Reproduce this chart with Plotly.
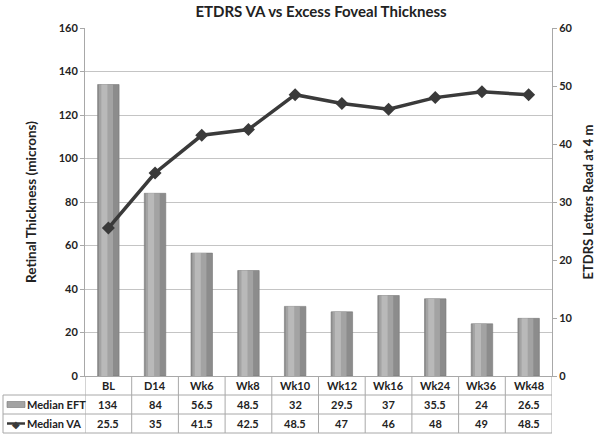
import plotly.graph_objects as go

categories = ["BL", "D14", "Wk6", "Wk8", "Wk10", "Wk12", "Wk16", "Wk24", "Wk36", "Wk48"]
median_eft = [134, 84, 56.5, 48.5, 32, 29.5, 37, 35.5, 24, 26.5]
median_va = [25.5, 35, 41.5, 42.5, 48.5, 47, 46, 48, 49, 48.5]

W, H = 600, 437
L, R, T, B = 85, 48, 28, 61
plot_w = W - L - R
plot_h = H - T - B
row_h = 19 / plot_h
left_px = 3
left_paper = (left_px - L) / plot_w

font = dict(family="Lato, Open Sans, sans-serif", size=11, color="#222222", weight="bold")
grid_c = "#c4c4c4"
table_c = "#a8a8a8"

fig = go.Figure()

# bars, layered to fake the cylinder shading
for width, offset, color, main in [
    (0.46, -0.23, "#8c8c8c", True),
    (0.30, -0.20, "#a3a3a3", False),
    (0.13, -0.15, "#b9b9b9", False),
]:
    fig.add_trace(
        go.Bar(
            x=list(range(len(categories))),
            y=median_eft,
            width=width,
            offset=offset,
            marker={"color": color, "line": {"color": "#777777" if main else color, "width": 0.6 if main else 0}},
            name="Median EFT",
            showlegend=False,
            hoverinfo="y" if main else "skip",
            yaxis="y",
        )
    )

fig.add_trace(
    go.Scatter(
        x=list(range(len(categories))),
        y=median_va,
        mode="lines+markers",
        line={"color": "#3a3a3a", "width": 3.5},
        marker={"symbol": "diamond", "size": 10, "color": "#3a3a3a"},
        name="Median VA",
        showlegend=False,
        yaxis="y2",
    )
)

shapes = []
annotations = []

# table grid
n = len(categories)
for i in range(n + 1):
    shapes.append(dict(type="line", xref="x", yref="paper", x0=i - 0.5, x1=i - 0.5,
                       y0=0, y1=-3 * row_h, line={"color": table_c, "width": 1}))
shapes.append(dict(type="line", xref="paper", yref="paper", x0=left_paper, x1=left_paper,
                   y0=-row_h, y1=-3 * row_h, line={"color": table_c, "width": 1}))
for k in (1, 2, 3):
    shapes.append(dict(type="line", xref="paper", yref="paper", x0=left_paper, x1=1,
                       y0=-k * row_h, y1=-k * row_h, line={"color": table_c, "width": 1}))

rows = [categories, [f"{v:g}" for v in median_eft], [f"{v:g}" for v in median_va]]
for r, vals in enumerate(rows):
    for i, v in enumerate(vals):
        annotations.append(dict(x=i, y=-(r + 0.5) * row_h, xref="x", yref="paper", text=v,
                                showarrow=False, font=font, xanchor="center", yanchor="middle"))

# legend keys in the table
key_x0 = (7 - L) / plot_w
key_x1 = (25 - L) / plot_w
shapes.append(dict(type="rect", xref="paper", yref="paper", x0=key_x0, x1=key_x1,
                   y0=-1.5 * row_h - 3 / plot_h, y1=-1.5 * row_h + 3 / plot_h,
                   fillcolor="#a3a3a3", line={"color": "#777777", "width": 0.6}))
shapes.append(dict(type="line", xref="paper", yref="paper", x0=key_x0, x1=key_x1,
                   y0=-2.5 * row_h, y1=-2.5 * row_h, line={"color": "#3a3a3a", "width": 2.5}))
annotations.append(dict(x=(key_x0 + key_x1) / 2, y=-2.5 * row_h, xref="paper", yref="paper",
                        text="◆", showarrow=False, font={"size": 10, "color": "#3a3a3a"},
                        xanchor="center", yanchor="middle"))
for r, label in [(1, "Median EFT"), (2, "Median VA")]:
    annotations.append(dict(x=(25 - L) / plot_w, y=-(r + 0.5) * row_h, xref="paper", yref="paper",
                            text=label, showarrow=False, font=font, xanchor="left", yanchor="middle"))

fig.update_layout(
    width=W,
    height=H,
    margin={"l": L, "r": R, "t": T, "b": B, "autoexpand": False},
    paper_bgcolor="white",
    plot_bgcolor="white",
    barmode="overlay",
    showlegend=False,
    title={"text": "ETDRS VA vs Excess Foveal Thickness", "x": 0.535, "xanchor": "center",
           "y": 1 - 12 / H, "yanchor": "middle",
           "font": {"family": "Lato, Open Sans, sans-serif", "size": 15, "color": "#222222", "weight": "bold"}},
    xaxis={"range": [-0.5, n - 0.5], "showticklabels": False, "ticks": "", "showgrid": False,
           "showline": True, "linecolor": table_c, "zeroline": False},
    yaxis={"range": [0, 160], "dtick": 20, "showgrid": True, "gridcolor": grid_c,
           "showline": True, "linecolor": table_c, "ticks": "outside", "ticklen": 4,
           "tickcolor": table_c, "tickfont": font, "zeroline": False,
           "title": {"text": "Retinal Thickness (microns)", "font": {**font, "size": 13.5}, "standoff": 18}},
    yaxis2={"range": [0, 60], "dtick": 10, "overlaying": "y", "side": "right", "showgrid": False,
            "showline": True, "linecolor": table_c, "ticks": "outside", "ticklen": 4,
            "tickcolor": table_c, "tickfont": font, "zeroline": False,
            "title": {"text": "ETDRS Letters Read at 4 m", "font": {**font, "size": 13}, "standoff": 12}},
    shapes=shapes,
    annotations=annotations,
)

fig.write_html("out.html", config={"displayModeBar": False},
               post_script="document.body.style.margin='0px';")
